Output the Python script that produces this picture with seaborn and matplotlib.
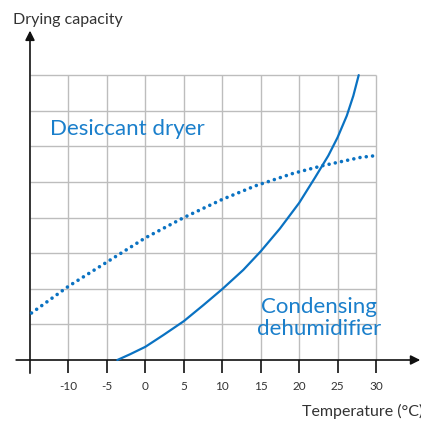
import matplotlib.pyplot as plt
import pandas as pd
import seaborn as sns

# Values (x in degC, y in grid units)
desiccant_temp = [-14.8, -10, -5, 0, 5, 10, 14.3, 19.2, 23.1, 28.0, 30]
desiccant_cap = [1.32, 2.07, 2.75, 3.43, 4.0, 4.51, 4.89, 5.24, 5.46, 5.69, 5.74]

condenser_temp = [-3.64, -2.0, 0, 2.34, 5, 7.54, 10, 12.74, 15, 17.5, 20,
                  22.06, 23.8, 25, 26.2, 27.05, 27.75]
condenser_cap = [0, 0.16, 0.37, 0.70, 1.09, 1.54, 1.99, 2.53, 3.05, 3.69, 4.41,
                 5.12, 5.74, 6.25, 6.86, 7.42, 8.0]

grid_x = [-10, -5, 0, 5, 10, 15, 20, 25, 30]
grid_y = [1, 2, 3, 4, 5, 6, 7, 8]
tick_labels = ["-10", "-5", "0", "5", "10", "15", "20", "25", "30"]

BLUE = "#0a72c2"
TEXT_BLUE = "#1a7fcb"
DARK = "#333333"
GRID = "#bdbdbd"


def plot() -> None:
    sns.set_style("white")
    plt.rcParams["font.family"] = ["Lato", "DejaVu Sans"]

    fig = plt.figure(figsize=(4.21, 4.21), dpi=100)
    ax = fig.add_axes([0, 0, 1, 1])
    ax.axis("off")

    # grid
    ax.vlines(grid_x, 0, 8, color=GRID, lw=1.0, zorder=1)
    ax.hlines(grid_y, -15, 30, color=GRID, lw=1.0, zorder=1)

    # axes with arrows
    ax.annotate("", xy=(35.75, 0), xytext=(-16.8, 0),
                arrowprops=dict(arrowstyle="-|>", color="#111111", lw=1.2,
                                mutation_scale=14, shrinkA=0, shrinkB=0),
                zorder=3)
    ax.annotate("", xy=(-15, 9.25), xytext=(-15, -0.37),
                arrowprops=dict(arrowstyle="-|>", color="#111111", lw=1.2,
                                mutation_scale=14, shrinkA=0, shrinkB=0),
                zorder=3)
    ax.vlines(grid_x, -0.37, 0, color="#111111", lw=1.2, zorder=3)
    for x, lab in zip(grid_x, tick_labels):
        ax.text(x, -0.74, lab, ha="center", va="center", fontsize=8.5, color=DARK)

    # curves
    df_d = pd.DataFrame({"temp": desiccant_temp, "cap": desiccant_cap})
    df_c = pd.DataFrame({"temp": condenser_temp, "cap": condenser_cap})
    sns.lineplot(data=df_d, x="temp", y="cap", ax=ax, color=BLUE, lw=2.6,
                 estimator=None, linestyle=(0, (0.001, 1.75)),
                 dash_capstyle="round", zorder=4)
    sns.lineplot(data=df_c, x="temp", y="cap", ax=ax, color=BLUE, lw=1.6,
                 estimator=None, zorder=4)
    ax.set_xlim(-18.9, 35.85)
    ax.set_ylim(-1.713, 10.11)

    # labels
    ax.text(-12.4, 6.49, "Desiccant dryer", ha="left", va="center",
            fontsize=16, color=TEXT_BLUE)
    ax.text(22.6, 1.17, "Condensing\ndehumidifier", ha="center", va="center",
            fontsize=16, color=TEXT_BLUE, linespacing=1.12)
    ax.text(-17.2, 9.55, "Drying capacity", ha="left", va="center",
            fontsize=11.5, color=DARK)
    ax.text(20.4, -1.44, "Temperature (°C)", ha="left", va="center",
            fontsize=11.5, color=DARK)

    fig.savefig("out.png", dpi=100)


if __name__ == "__main__":
    plot()
